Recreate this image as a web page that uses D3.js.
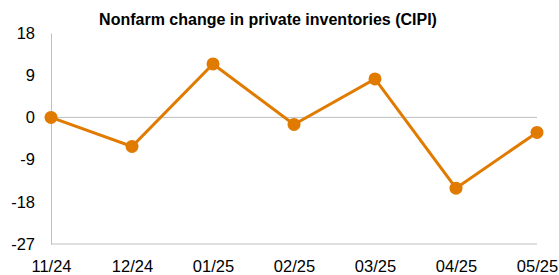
<!DOCTYPE html>
<html>
<head>
<meta charset="utf-8">
<script src="https://cdn.jsdelivr.net/npm/d3@7"></script>
<style>
  body { margin: 0; background: #fff; }
  text { font-family: "Liberation Sans", Arial, sans-serif; }
</style>
</head>
<body>
<svg id="chart" width="559" height="275"></svg>
<script>
// data
const months = ['11/24', '12/24', '01/25', '02/25', '03/25', '04/25', '05/25'];
const cipi = [0, -6.2, 11.4, -1.5, 8.2, -15.1, -3.2];
const yTicks = [18, 9, 0, -9, -18, -27];

const width = 559, height = 275;
const margin = {top: 33, right: 22, bottom: 31, left: 51};
const lineColor = '#E07B00';
const axisColor = '#BFBFBF';

const svg = d3.select('#chart');

const x = d3.scalePoint()
  .domain(months)
  .range([margin.left, width - margin.right]);

const y = d3.scaleLinear()
  .domain([-27, 18])
  .range([height - margin.bottom, margin.top]);

// title
svg.append('text')
  .attr('x', 268)
  .attr('y', 25)
  .attr('text-anchor', 'middle')
  .attr('font-size', '16px')
  .attr('font-weight', 'bold')
  .attr('fill', '#000')
  .text('Nonfarm change in private inventories (CIPI)');

// y axis, labels only
const yAxis = svg.append('g')
  .attr('transform', 'translate(' + margin.left + ',0)')
  .call(d3.axisLeft(y).tickValues(yTicks).tickSize(0).tickPadding(16)
    .tickFormat(function(d) { return String(d); }));
yAxis.select('.domain').attr('stroke', axisColor);
yAxis.selectAll('text').attr('font-size', '16.5px').attr('fill', '#000')
  .attr('font-family', '"Liberation Sans", Arial, sans-serif');

// bottom line at -27
svg.append('line')
  .attr('x1', margin.left).attr('x2', width - margin.right)
  .attr('y1', y(-27)).attr('y2', y(-27))
  .attr('stroke', axisColor);

// zero line
svg.append('line')
  .attr('x1', margin.left).attr('x2', width - margin.right)
  .attr('y1', y(0)).attr('y2', y(0))
  .attr('stroke', axisColor);

// x labels
const xAxis = svg.append('g')
  .attr('transform', 'translate(0,' + y(-27) + ')')
  .call(d3.axisBottom(x).tickSize(0).tickPadding(16));
xAxis.select('.domain').remove();
xAxis.selectAll('text').attr('font-size', '16.5px').attr('fill', '#000')
  .attr('font-family', '"Liberation Sans", Arial, sans-serif');

// the line
const line = d3.line()
  .x(function(d, i) { return x(months[i]); })
  .y(function(d) { return y(d); });

svg.append('path')
  .datum(cipi)
  .attr('d', line)
  .attr('fill', 'none')
  .attr('stroke', lineColor)
  .attr('stroke-width', 3);

svg.selectAll('.dot')
  .data(cipi)
  .enter()
  .append('circle')
  .attr('class', 'dot')
  .attr('cx', function(d, i) { return x(months[i]); })
  .attr('cy', function(d) { return y(d); })
  .attr('r', 6.5)
  .attr('fill', lineColor);
</script>
</body>
</html>
